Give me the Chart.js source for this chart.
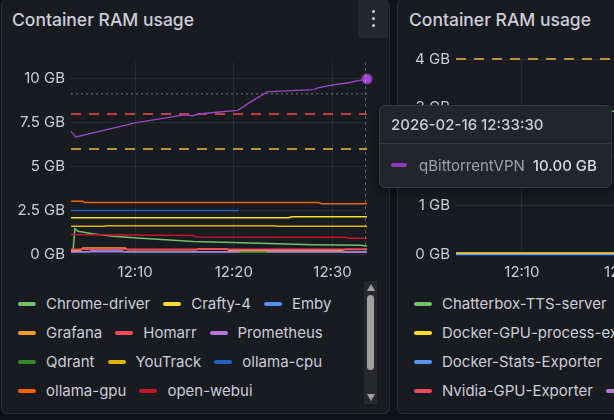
<!DOCTYPE html>
<html>
<head>
<meta charset="utf-8">
<script src="https://cdn.jsdelivr.net/npm/chart.js@4.4.1/dist/chart.umd.min.js"></script>
<style>
  body { margin: 0; width: 614px; height: 420px; overflow: hidden; background: #111217; position: relative; font-family: Inter, "Noto Sans", sans-serif; color: #ccccdc; }
  .panel { position: absolute; top: -1px; width: 389px; height: 415px; background: #181b1f; border: 1px solid #2a2d33; border-radius: 6px; box-sizing: border-box; }
  .title { position: absolute; top: 8px; font-size: 17.5px; font-weight: 500; line-height: 24px; color: #ccccdc; white-space: nowrap; }
  .menu { position: absolute; left: 358px; top: -1px; width: 30px; height: 39px; background: #25272c; border-radius: 4px; }
  .menu i { position: absolute; left: 13.5px; width: 3px; height: 3px; border-radius: 2px; background: #ccccdc; }
  canvas { position: absolute; }
  .legend { position: absolute; top: 289px; display: flex; flex-wrap: wrap; overflow: hidden; font-size: 15px; }
  .item { display: flex; align-items: center; height: 29px; margin-right: 13px; white-space: nowrap; }
  .sw { width: 18px; height: 4px; border-radius: 2px; margin-right: 10px; }
  .scroll { position: absolute; left: 364px; top: 281px; width: 13px; height: 123px; background: #26282c; }
  .thumb { position: absolute; left: 3px; top: 14px; width: 7px; height: 75px; background: #a0a0a0; border-radius: 4px; }
  .arr { position: absolute; left: 3px; width: 0; height: 0; border-left: 4px solid transparent; border-right: 4px solid transparent; }
  .tip { position: absolute; left: 379px; top: 105px; width: 233px; height: 83px; background: #22252b; border: 1px solid #35383e; border-radius: 6px; box-sizing: border-box; box-shadow: 0 4px 8px rgba(0,0,0,0.4); font-size: 15px; }
  .tip .hd { height: 37px; line-height: 38px; padding-left: 11px; font-weight: 500; border-bottom: 1px solid #33363c; color: #ccccdc; }
  .tip .row { position: absolute; top: 44px; left: 11px; height: 30px; display: flex; align-items: center; }
  .tip .lbl { color: #9fa1a9; margin-right: 8px; }
  .tip .val { color: #d8d9e0; font-weight: 500; }
</style>
</head>
<body>
<div class="panel" style="left:1px"></div>
<div class="panel" style="left:397px"></div>
<div class="title" style="left:12px">Container RAM usage</div>
<div class="title" style="left:409px">Container RAM usage</div>
<div class="menu"><i style="top:11px"></i><i style="top:18px"></i><i style="top:25px"></i></div>

<canvas id="chart1" width="372" height="240" style="left:10px;top:47px;width:372px;height:240px"></canvas>
<canvas id="chart2" width="380" height="243" style="left:395px;top:44px;width:380px;height:243px"></canvas>

<div class="legend" id="legend1" style="left:18px;width:346px;height:116px"></div>
<div class="legend" id="legend2" style="left:414px;width:360px;height:116px"></div>
<div class="scroll">
  <div class="arr" style="top:3px;border-bottom:7px solid #a0a0a0"></div>
  <div class="thumb"></div>
  <div class="arr" style="top:113px;border-top:7px solid #a0a0a0"></div>
</div>
<div class="tip" id="tip"></div>

<script>
// time in minutes after 12:00, values in GB
const timeRange = [3.5, 33.5];
const xTicks = [10, 20, 30];
const yTicks1 = [0, 2.5, 5, 7.5, 10];
const yTicks2 = [0, 1, 2, 3, 4];

const names1 = ['Chrome-driver', 'Crafty-4', 'Emby', 'Grafana', 'Homarr', 'Prometheus',
  'Qdrant', 'YouTrack', 'ollama-cpu', 'ollama-gpu', 'open-webui', 'qBittorrentVPN'];
const colors1 = ['#73BF69', '#FADE2A', '#5794F2', '#FF9830', '#F2495C', '#B877D9',
  '#37872D', '#E0B400', '#1F60C4', '#FA6400', '#C4162A', '#8F3BB8'];

const chromeDriver = [[3.5, 0.12], [3.7, 0.15], [3.9, 1.45], [4.2, 1.3], [5.7, 1.16], [7.75, 1.01],
  [10.2, 0.91], [13.5, 0.8], [15.9, 0.72], [19.9, 0.65], [24.4, 0.59], [28.0, 0.53], [32.8, 0.5], [33.5, 0.46]];
const crafty4 = [[3.5, 2.07], [25.6, 2.07], [25.9, 2.13], [33.5, 2.13]];
const emby = [[3.5, 0.12], [5.3, 0.12], [5.6, 0.2], [8.6, 0.2], [8.9, 0.12], [33.5, 0.12]];
const grafana = [[3.5, 0.22], [4.5, 0.22], [4.7, 0.34], [9.0, 0.34], [9.2, 0.24], [16.2, 0.24],
  [16.4, 0.28], [19.3, 0.28], [19.5, 0.22], [31.0, 0.22], [31.3, 0.26], [33.5, 0.26]];
const homarr = [[3.5, 0.27], [33.5, 0.27]];
const prometheus = [[3.5, 0.13], [30.8, 0.13], [31.0, 0.1], [33.5, 0.1]];
const qdrant = [[20.6, 0.1], [23.4, 0.1]];
const youTrack = [[3.5, 1.58], [6.8, 1.58], [7.1, 1.62], [24.1, 1.62], [24.4, 1.58], [33.5, 1.58]];
const ollamaCpu = [[3.5, 2.49], [20.5, 2.49]];
const ollamaGpu = [[3.5, 3.01], [4.7, 3.01], [4.9, 2.94], [28.6, 2.94], [28.9, 2.87], [33.5, 2.87]];
const openWebui = [[3.5, 1.12], [5.5, 1.1], [9.0, 1.08], [15.9, 1.06], [16.2, 0.97], [31.3, 0.96], [31.6, 0.9], [33.5, 0.9]];
const qBittorrentVPN = [[3.5, 7.01], [4.0, 6.69], [10.0, 7.49], [15.0, 7.95], [15.8, 7.9], [16.5, 8.0],
  [18.2, 8.1], [20.4, 8.21], [21.7, 8.69], [23.4, 9.26], [24.7, 9.31], [28.1, 9.39], [28.5, 9.49],
  [30.1, 9.67], [31.5, 9.77], [33.5, 10.0]];
const series1 = [chromeDriver, crafty4, emby, grafana, homarr, prometheus, qdrant, youTrack,
  ollamaCpu, ollamaGpu, openWebui, qBittorrentVPN];

const thresholds1 = [6, 8];
const thresholdColors1 = ['#b8952f', '#c23b4b'];
const dottedLevel1 = 9.15;

const names2 = ['Chatterbox-TTS-server', 'Docker-GPU-process-exporter', 'Docker-Stats-Exporter',
  'Nvidia-GPU-Exporter', 'Portainer'];
const colors2 = ['#73BF69', '#FADE2A', '#5794F2', '#F2495C', '#B877D9'];
const chatterbox = [[3.5, 2.93], [33.5, 2.93]];
const dockerGpu = [[3.5, 0.02], [33.5, 0.02]];
const dockerStats = [[3.5, -0.01], [33.5, -0.01]];
const nvidiaGpu = [[3.5, 0.005], [33.5, 0.005]];
const portainer = [[3.5, 0.0], [33.5, 0.0]];
const series2 = [chatterbox, nvidiaGpu, portainer, dockerStats, dockerGpu];
const seriesColors2 = ['#73BF69', '#F2495C', '#B877D9', '#5794F2', '#FADE2A'];

const thresholds2 = [4];
const thresholdColors2 = ['#b8952f'];

const hoverDate = '2026-02-16';

function fmtTime(t) {
  const m = Math.floor(t), s = Math.round((t - m) * 60);
  return '12:' + String(m).padStart(2, '0') + ':' + String(s).padStart(2, '0');
}

function toPoints(arr) {
  return arr.map(p => ({ x: p[0], y: p[1] }));
}

function lineSet(arr, color, i) {
  return {
    data: toPoints(arr), borderColor: color, backgroundColor: color, borderWidth: 1.5,
    pointRadius: 0, tension: 0, clip: false, order: -i
  };
}

function thresholdSet(val, color, dash, width) {
  return {
    data: [{ x: timeRange[0], y: val }, { x: timeRange[1], y: val }],
    borderColor: color, borderWidth: width, borderDash: dash, pointRadius: 0, clip: false, order: 50
  };
}

const crosshair = {
  id: 'crosshair',
  afterDatasetsDraw(chart, args, opts) {
    if (!opts.at) return;
    const ctx = chart.ctx, a = chart.chartArea;
    const x = chart.scales.x.getPixelForValue(opts.at) - 1.5;
    ctx.save();
    ctx.strokeStyle = 'rgba(204,204,220,0.35)';
    ctx.lineWidth = 1;
    ctx.setLineDash([3, 3]);
    ctx.beginPath();
    ctx.moveTo(x, a.top);
    ctx.lineTo(x, a.bottom);
    ctx.stroke();
    ctx.restore();
  }
};

function makeOptions(yMin, yMax, yTicks, yWidth, fmtY, hoverAt) {
  return {
    responsive: false,
    animation: false,
    layout: { padding: { left: 0, right: 15, top: 15, bottom: 0 } },
    plugins: { legend: { display: false }, tooltip: { enabled: false }, crosshair: { at: hoverAt } },
    scales: {
      x: {
        type: 'linear', min: timeRange[0], max: timeRange[1],
        afterBuildTicks: s => { s.ticks = xTicks.map(v => ({ value: v })); },
        afterFit: s => { s.height = 33; },
        grid: { color: 'rgba(204,204,220,0.09)', drawTicks: false },
        border: { display: false },
        ticks: { color: '#ccccdc', font: { family: 'Inter', size: 15 }, padding: 9, maxRotation: 0,
          callback: v => fmtTime(v).slice(0, 5) }
      },
      y: {
        min: yMin, max: yMax,
        afterBuildTicks: s => { s.ticks = yTicks.map(v => ({ value: v })); },
        afterFit: s => { s.width = yWidth; },
        grid: { color: 'rgba(204,204,220,0.09)', drawTicks: false },
        border: { display: false },
        ticks: { color: '#ccccdc', font: { family: 'Inter', size: 15 }, padding: 6, callback: fmtY }
      }
    }
  };
}

// Panel 1
const hoverT = qBittorrentVPN[qBittorrentVPN.length - 1][0];
const ds1 = series1.map((s, i) => lineSet(s, colors1[i], i));
const last = ds1[ds1.length - 1];
last.borderColor = '#9a45c8';
last.borderWidth = 1.3;
last.pointRadius = c => (c.dataIndex === qBittorrentVPN.length - 1 ? 4.5 : 0);
last.pointBorderWidth = 3;
last.pointBorderColor = 'rgba(160,70,210,0.45)';
last.pointBackgroundColor = '#a547d6';
thresholds1.forEach((v, i) => ds1.push(thresholdSet(v, thresholdColors1[i], [10, 8], 2)));
ds1.push(thresholdSet(dottedLevel1, '#55585e', [2, 3], 1.5));

new Chart(document.getElementById('chart1'), {
  type: 'line',
  data: { datasets: ds1 },
  options: makeOptions(0, 10.97, yTicks1, 61, v => v + ' GB', hoverT),
  plugins: [crosshair]
});

// Panel 2
const ds2 = series2.map((s, i) => lineSet(s, seriesColors2[i], i));
thresholds2.forEach((v, i) => ds2.push(thresholdSet(v, thresholdColors2[i], [10, 8], 2)));
new Chart(document.getElementById('chart2'), {
  type: 'line',
  data: { datasets: ds2 },
  options: makeOptions(0, 4, yTicks2, 61, v => v + ' GB', null),
  plugins: [crosshair]
});

function buildLegend(id, names, colors) {
  const el = document.getElementById(id);
  names.forEach((n, i) => {
    const it = document.createElement('div');
    it.className = 'item';
    it.innerHTML = '<span class="sw" style="background:' + colors[i] + '"></span><span>' + n + '</span>';
    el.appendChild(it);
  });
}
buildLegend('legend1', names1, colors1);
buildLegend('legend2', names2, colors2);

// Tooltip for hovered point
const lastVal = qBittorrentVPN[qBittorrentVPN.length - 1][1];
document.getElementById('tip').innerHTML =
  '<div class="hd">' + hoverDate + ' ' + fmtTime(hoverT) + '</div>' +
  '<div class="row"><span class="sw" style="width:16px;background:' + colors1[11] + ';margin-right:12px"></span>' +
  '<span class="lbl">' + names1[11] + '</span><span class="val">' + lastVal.toFixed(2) + ' GB</span></div>';
</script>
</body>
</html>
